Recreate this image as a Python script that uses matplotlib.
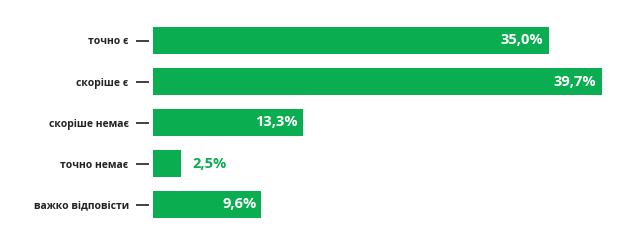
import matplotlib.pyplot as plt

categories = ["точно є", "скоріше є", "скоріше немає", "точно немає", "важко відповісти"]
values = [35.0, 39.7, 13.3, 2.5, 9.6]
value_labels = ["35,0%", "39,7%", "13,3%", "2,5%", "9,6%"]

green = "#0aad4f"
plt.rcParams['font.family'] = ['Open Sans', 'DejaVu Sans']

fig = plt.figure(figsize=(6.2, 2.42), dpi=100)
ax = fig.add_axes([153 / 620, 17 / 242, 452 / 620, 205 / 242])

ypos = list(range(len(categories)))
bars = ax.barh(ypos, values, height=0.66, color=green)
ax.set_xlim(0, 40)
ax.set_ylim(4.5, -0.5)

for b, v, lab in zip(bars, values, value_labels):
    y = b.get_y() + b.get_height() / 2
    if v > 5:
        ax.text(v - 0.45, y, lab, ha='right', va='center', color='white',
                fontsize=10.5, fontweight='bold')
    else:
        ax.text(v + 1.0, y, lab, ha='left', va='center', color=green,
                fontsize=10.5, fontweight='bold')

# spine position resets the ticks, so do it first
for s in ax.spines.values():
    s.set_visible(False)
ax.spines['left'].set_position(('outward', 3))
ax.set_xticks([])
ax.set_yticks(ypos)
ax.set_yticklabels(categories, fontsize=7.5, fontweight='bold', color='#222222')
ax.tick_params(axis='y', length=9.5, width=1.3, color='#333333', pad=5)

fig.savefig("out.png", dpi=100, facecolor='white')
